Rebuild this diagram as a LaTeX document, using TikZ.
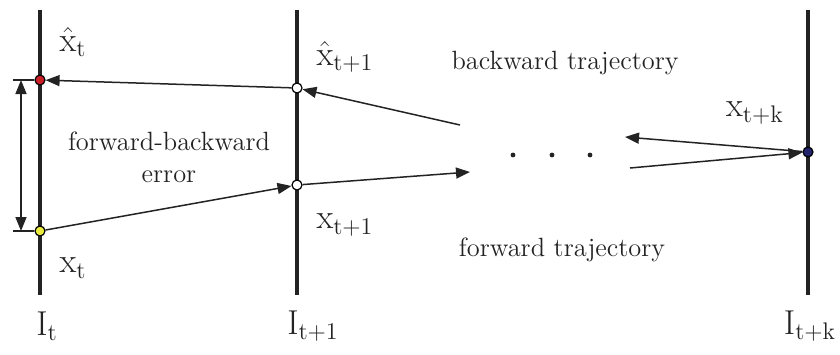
\documentclass[tikz,border=0pt]{standalone}
\usetikzlibrary{arrows.meta}

\definecolor{fbred}{RGB}{205,30,40}
\definecolor{fbyellow}{RGB}{235,235,60}
\definecolor{fbnavy}{RGB}{35,35,110}
\definecolor{fbgray}{RGB}{35,35,35}

\begin{document}
\begin{tikzpicture}[x=0.5pt,y=-0.5pt,
	achse/.style={line width=2pt, fbgray},
	pkt/.style={circle, draw=black, line width=0.6pt, inner sep=0pt, minimum size=5pt},
	pfeil/.style={-{Triangle[length=7pt,width=5.5pt]}, line width=0.75pt, fbgray},
	lbl/.style={font=\fontsize{17}{20}\selectfont, text=fbgray},
	txt/.style={font=\fontsize{13.2}{16}\selectfont, text=fbgray, align=center}]
	\useasboundingbox (0,0) rectangle (840,354);

	% Bildebenen I_t, I_{t+1}, I_{t+k}
	\foreach \name/\px in {t/40, a/297, k/808} {
		\coordinate (top\name) at (\px,10);
		\coordinate (bot\name) at (\px,295);
		\draw[achse] (top\name) -- (bot\name);
	}

	% Punkte auf den Ebenen
	\node[pkt, fill=fbred]    (xhat0) at (40,80)   {};
	\node[pkt, fill=fbyellow] (x0)    at (40,231)  {};
	\node[pkt, fill=white]    (xhat1) at (297,88)  {};
	\node[pkt, fill=white]    (x1)    at (297,185) {};
	\node[pkt, fill=fbnavy]   (xk)    at (808,152) {};

	% freie Enden der Trajektorien
	\coordinate (bwIn)   at (460,125);
	\coordinate (fwOut)  at (470,172);
	\coordinate (bwOut)  at (625,137);
	\coordinate (fwIn)   at (630,168);

	% Vorwaerts- und Rueckwaertstrajektorie
	\draw[pfeil] (x0) -- (x1);
	\draw[pfeil] (x1) -- (fwOut);
	\draw[pfeil] (fwIn) -- (xk);
	\draw[pfeil] (xk) -- (bwOut);
	\draw[pfeil] (bwIn) -- (xhat1);
	\draw[pfeil] (xhat1) -- (xhat0);

	% Fehlerpfeil
	\coordinate (errTop) at (21,80);
	\coordinate (errBot) at (21,231);
	\draw[line width=0.6pt, fbgray] (errTop) ++(-8,0) -- (xhat0);
	\draw[line width=0.6pt, fbgray] (errBot) ++(-8,0) -- (x0);
	\draw[pfeil, {Triangle[length=7pt,width=5.5pt]}-{Triangle[length=7pt,width=5.5pt]}] (errTop) -- (errBot);

	% Auslassungspunkte
	\foreach \px in {513, 552, 590}
		\fill[fbgray] (\px,155) circle (1.2pt);

	% Beschriftungen
	\node[lbl] (lXhat0) at (73,42)   {$\hat{\mathrm{x}}_{\mathrm{t}}$};
	\node[lbl] (lX0)    at (73,268)  {$\mathrm{x}_{\mathrm{t}}$};
	\node[lbl] (lXhat1) at (345,57)  {$\hat{\mathrm{x}}_{\mathrm{t+1}}$};
	\node[lbl] (lX1)    at (345,225) {$\mathrm{x}_{\mathrm{t+1}}$};
	\node[lbl] (lXk)    at (755,113) {$\mathrm{x}_{\mathrm{t+k}}$};
	\node[lbl] (lIt)    at (47,326)  {$\mathrm{I}_{\mathrm{t}}$};
	\node[lbl] (lIa)    at (313,326) {$\mathrm{I}_{\mathrm{t+1}}$};
	\node[lbl] (lIk)    at (810,326) {$\mathrm{I}_{\mathrm{t+k}}$};

	\node[txt] (lBw)  at (565,63)  {backward trajectory};
	\node[txt] (lFw)  at (562,250) {forward trajectory};
	\node[txt] (lErr) at (169,157) {forward-backward\\error};
\end{tikzpicture}
\end{document}
